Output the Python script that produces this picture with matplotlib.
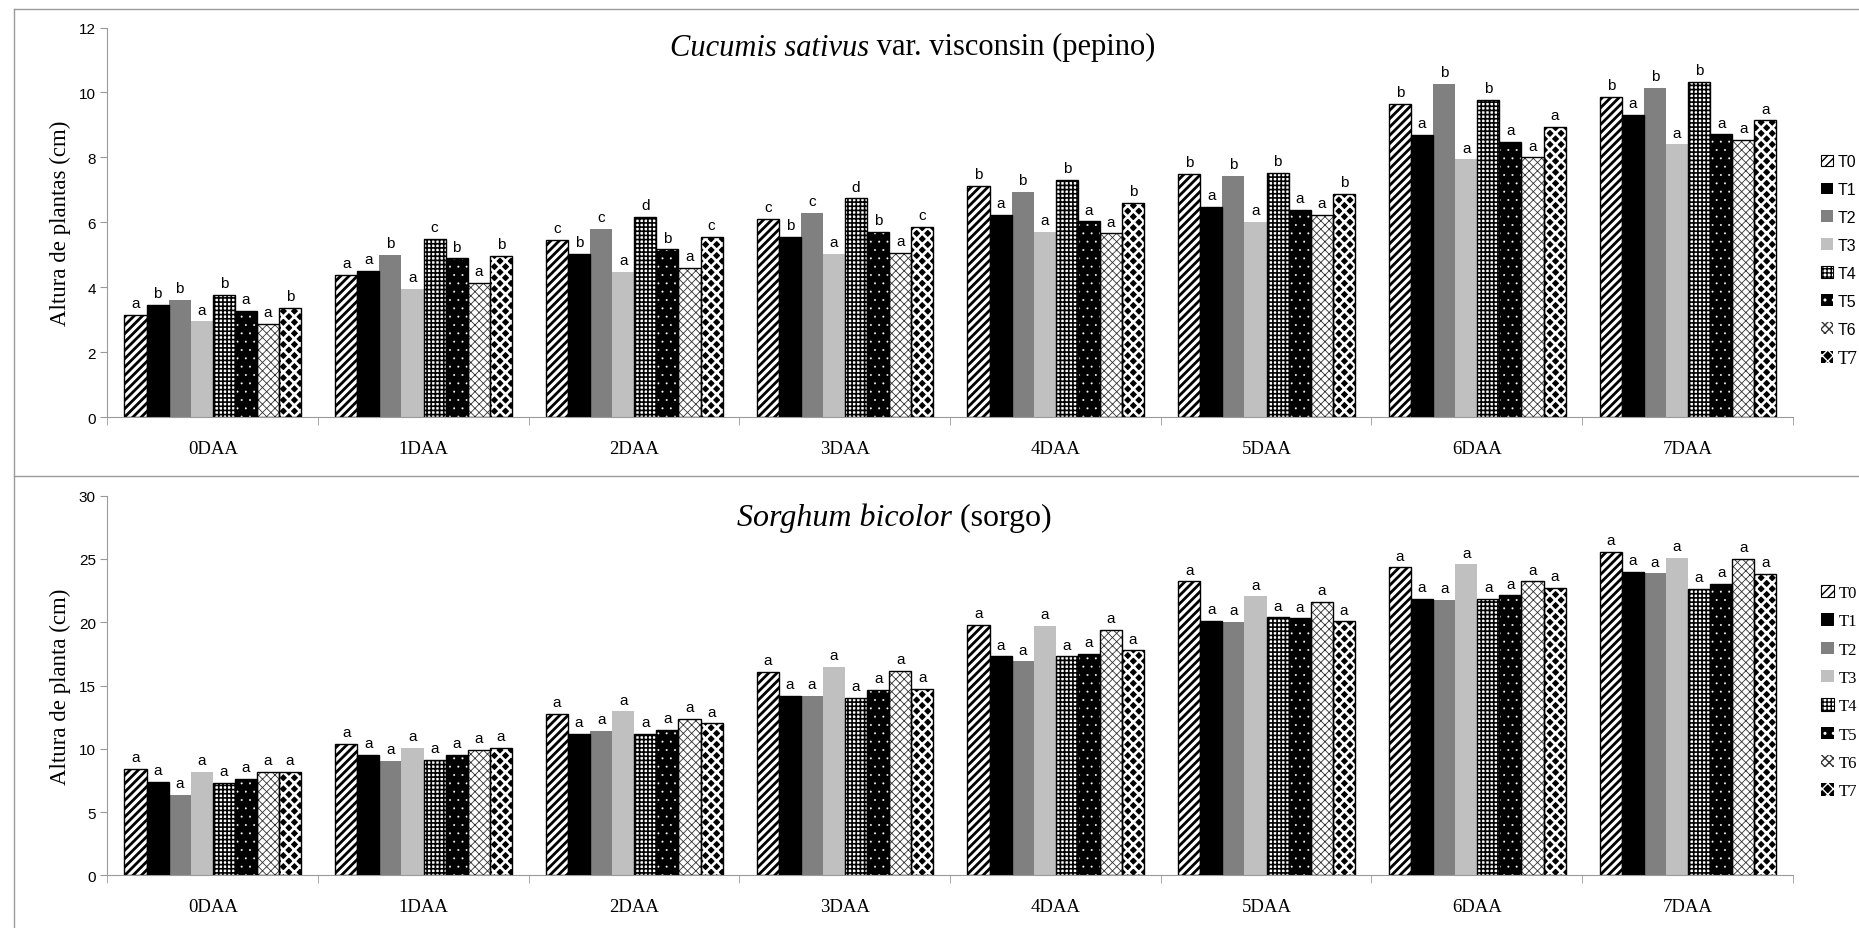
import numpy as np
import matplotlib
matplotlib.use('Agg')
import matplotlib.pyplot as plt
from matplotlib.lines import Line2D

# Data
days = ['0DAA', '1DAA', '2DAA', '3DAA', '4DAA', '5DAA', '6DAA', '7DAA']
treatments = ['T0', 'T1', 'T2', 'T3', 'T4', 'T5', 'T6', 'T7']

# Cucumis sativus (rows = treatment, cols = day)
pepino = [
    [3.15, 4.37, 5.47, 6.10, 7.12, 7.48, 9.64, 9.85],   # T0
    [3.47, 4.51, 5.02, 5.54, 6.24, 6.48, 8.68, 9.30],   # T1
    [3.62, 4.99, 5.81, 6.29, 6.95, 7.43, 10.26, 10.13], # T2
    [2.95, 3.94, 4.48, 5.02, 5.70, 6.01, 7.94, 8.40],   # T3
    [3.78, 5.49, 6.18, 6.74, 7.31, 7.52, 9.76, 10.32],  # T4
    [3.27, 4.89, 5.17, 5.71, 6.03, 6.38, 8.47, 8.71],   # T5
    [2.87, 4.13, 4.61, 5.07, 5.66, 6.23, 8.00, 8.55],   # T6
    [3.38, 4.96, 5.54, 5.86, 6.61, 6.88, 8.93, 9.14],   # T7
]
pepino_letters = [
    ['a', 'a', 'c', 'c', 'b', 'b', 'b', 'b'],
    ['b', 'a', 'b', 'b', 'a', 'a', 'a', 'a'],
    ['b', 'b', 'c', 'c', 'b', 'b', 'b', 'b'],
    ['a', 'a', 'a', 'a', 'a', 'a', 'a', 'a'],
    ['b', 'c', 'd', 'd', 'b', 'b', 'b', 'b'],
    ['a', 'b', 'b', 'b', 'a', 'a', 'a', 'a'],
    ['a', 'a', 'a', 'a', 'a', 'a', 'a', 'a'],
    ['b', 'b', 'c', 'c', 'b', 'b', 'a', 'a'],
]

# Sorghum bicolor
sorgo = [
    [8.38, 10.39, 12.73, 16.06, 19.77, 23.23, 24.33, 25.55],
    [7.38, 9.49, 11.20, 14.16, 17.30, 20.12, 21.83, 23.96],
    [6.38, 9.02, 11.44, 14.16, 16.90, 20.01, 21.75, 23.86],
    [8.20, 10.10, 12.95, 16.50, 19.72, 22.04, 24.57, 25.05],
    [7.28, 9.10, 11.20, 14.05, 17.30, 20.38, 21.83, 22.62],
    [7.59, 9.49, 11.52, 14.66, 17.48, 20.30, 22.12, 23.04],
    [8.20, 9.89, 12.39, 16.13, 19.38, 21.59, 23.23, 25.02],
    [8.17, 10.10, 12.00, 14.74, 17.77, 20.06, 22.70, 23.81],
]
sorgo_letters = [['a'] * 8 for _ in range(8)]

# bar styles: face, hatch colour, hatch, hatch lw, outline
styles = [
    dict(face='white', hcol='black', hatch='////', hlw=2.0, edge='black'),
    dict(face='black', hcol='black', hatch=None, hlw=1.0, edge='black'),
    dict(face='#808080', hcol='#808080', hatch=None, hlw=1.0, edge='none'),
    dict(face='#c0c0c0', hcol='#c0c0c0', hatch=None, hlw=1.0, edge='none'),
    dict(face='white', hcol='black', hatch='++++', hlw=1.2, edge='black'),
    dict(face='black', hcol='white', hatch='..', hlw=0.2, edge='black'),
    dict(face='white', hcol='#333333', hatch='xxxx', hlw=0.6, edge='black'),
    dict(face='black', hcol='white', hatch='xxx', hlw=1.9, edge='black'),
]

SANS = 'Liberation Sans'
SERIF = 'Liberation Serif'

fig = plt.figure(figsize=(18.59, 9.29), dpi=100)

# chart area frames
for y in [1 - 9.5 / 929, 1 - 477 / 929]:
    fig.add_artist(Line2D([14 / 1859, 1], [y, y], transform=fig.transFigure,
                          color='#9a9a9a', lw=1.0))
fig.add_artist(Line2D([14 / 1859, 14 / 1859], [0, 1 - 9.5 / 929],
                      transform=fig.transFigure, color='#9a9a9a', lw=1.0))

left = 107 / 1859
width = (1793 - 107) / 1859
ax1 = fig.add_axes([left, 1 - 418.3 / 929, width, (418.3 - 28.5) / 929])
ax2 = fig.add_axes([left, 1 - 876.3 / 929, width, (876.3 - 496.7) / 929])

bw = 0.1048
x = np.arange(len(days)) + 0.502


def draw_panel(ax, values, letters, ymax, ystep, ylabel):
    handles = []
    for k, (vals, st) in enumerate(zip(values, styles)):
        pos = x + (k - 3.5) * bw
        bars = ax.bar(pos, vals, bw, color=st['face'], edgecolor=st['hcol'],
                      hatch=st['hatch'], linewidth=0, zorder=2)
        for b in bars:
            if hasattr(b, 'set_hatch_linewidth'):
                b.set_hatch_linewidth(st['hlw'])
        if st['edge'] != 'none':
            ax.bar(pos, vals, bw, fill=False, edgecolor=st['edge'],
                   linewidth=1.0, zorder=3)
        handles.append(bars)
        for xi, v, lab in zip(pos, vals, letters[k]):
            ax.annotate(lab, (xi, v), xytext=(0, 3.5), textcoords='offset points',
                        ha='center', va='bottom', fontsize=11, family=SANS)
    ax.set_xlim(0, len(days))
    ax.set_ylim(0, ymax)
    ax.set_yticks(np.arange(0, ymax + 0.1, ystep))
    ax.set_xticks(x)
    ax.set_xticklabels(days, family=SERIF, fontsize=13.5)
    ax.set_xticks(np.arange(0, len(days) + 1), minor=True)
    ax.tick_params(axis='x', which='major', length=0, pad=16)
    ax.tick_params(axis='x', which='minor', length=6, color='#9a9a9a', direction='out')
    ax.tick_params(axis='y', length=5, color='#9a9a9a', labelsize=11, pad=3)
    for t in ax.get_yticklabels():
        t.set_family(SANS)
    for s in ['top', 'right']:
        ax.spines[s].set_visible(False)
    for s in ['left', 'bottom']:
        ax.spines[s].set_color('#9a9a9a')
    ax.set_ylabel(ylabel, family=SERIF, fontsize=16.5, labelpad=6)
    return handles


h1 = draw_panel(ax1, pepino, pepino_letters, 12, 2, 'Altura de plantas (cm)')
h2 = draw_panel(ax2, sorgo, sorgo_letters, 30, 5, 'Altura de planta (cm)')

# titles (italic species name + roman rest)
t1 = fig.text(670 / 1859, 1 - 48 / 929, 'Cucumis sativus', family=SERIF, style='italic',
              fontsize=22, va='center', ha='left')
ax1.annotate(' var. visconsin (pepino)', xy=(1, 0), xycoords=t1, family=SERIF,
             fontsize=22, va='bottom', ha='left')
t2 = fig.text(737 / 1859, 1 - 518 / 929, 'Sorghum bicolor', family=SERIF, style='italic',
              fontsize=23, va='center', ha='left')
ax2.annotate(' (sorgo)', xy=(1, 0), xycoords=t2, family=SERIF,
             fontsize=23, va='bottom', ha='left')

# legends at right edge
leg1 = fig.legend(h1, treatments, loc='upper left', bbox_to_anchor=(1821 / 1859, 1 - 155 / 929),
                  frameon=False, handlelength=0.75, handleheight=0.75, handletextpad=0.3,
                  labelspacing=0.81, borderpad=0, borderaxespad=0,
                  prop={'family': SANS, 'size': 11.5})
leg1.get_texts()[7].set_family(SERIF)
leg1.get_texts()[7].set_fontsize(13)
leg2 = fig.legend(h2, treatments, loc='upper left', bbox_to_anchor=(1821 / 1859, 1 - 586 / 929),
                  frameon=False, handlelength=0.75, handleheight=0.75, handletextpad=0.3,
                  labelspacing=0.74, borderpad=0, borderaxespad=0,
                  prop={'family': SERIF, 'size': 12})

# thin black outline on legend keys with black hatching
for leg in (leg1, leg2):
    for i, hp in enumerate(leg.legend_handles):
        if styles[i]['hcol'] == 'black' and styles[i]['hatch']:
            hp.set_linewidth(0.8)
            hp.set_edgecolor('black')

fig.savefig('out.png', dpi=100)
